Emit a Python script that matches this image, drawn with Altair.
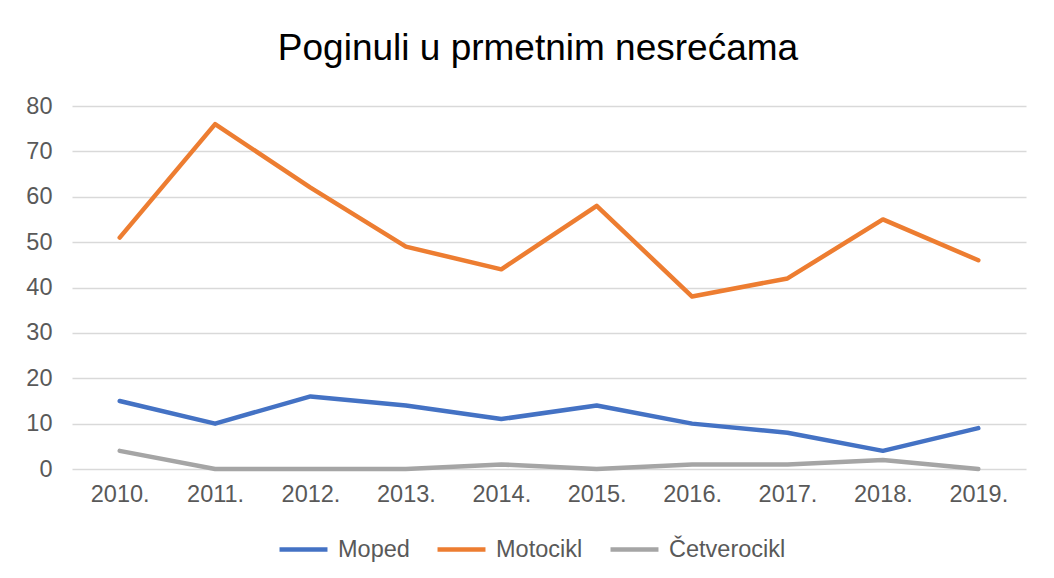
import altair as alt
import pandas as pd

years = ["2010.", "2011.", "2012.", "2013.", "2014.", "2015.", "2016.", "2017.", "2018.", "2019."]
moped = [15, 10, 16, 14, 11, 14, 10, 8, 4, 9]
motocikl = [51, 76, 62, 49, 44, 58, 38, 42, 55, 46]
cetverocikl = [4, 0, 0, 0, 1, 0, 1, 1, 2, 0]

series_names = ["Moped", "Motocikl", "Četverocikl"]
series_values = [moped, motocikl, cetverocikl]
colors = ["#4472C4", "#ED7D31", "#A5A5A5"]

rows = []
for name, vals in zip(series_names, series_values):
    for y, v in zip(years, vals):
        rows.append({"Godina": y, "Serija": name, "Vrijednost": v})
df = pd.DataFrame(rows)

font = "Liberation Sans"
fs = 23.5

chart = alt.Chart(df).mark_line(strokeWidth=4.5, strokeCap="round", strokeJoin="round").encode(
    x=alt.X("Godina:N", sort=years, scale=alt.Scale(type="point", padding=0.5),
            axis=alt.Axis(title=None, labelAngle=0, ticks=False, domain=False, grid=False,
                          labelFontSize=fs, labelColor="#595959", labelFont=font, labelPadding=13)),
    y=alt.Y("Vrijednost:Q", scale=alt.Scale(domain=[0, 80], nice=False),
            axis=alt.Axis(title=None, values=[0, 10, 20, 30, 40, 50, 60, 70, 80], ticks=False, domain=False,
                          gridColor="#D9D9D9", gridWidth=1.5, labelFontSize=fs, labelColor="#595959",
                          labelFont=font, labelPadding=20)),
    color=alt.Color("Serija:N", sort=series_names,
                    scale=alt.Scale(domain=series_names, range=colors),
                    legend=alt.Legend(title=None, orient="none", direction="horizontal",
                                      legendX=205, legendY=417, symbolType="stroke",
                                      symbolStrokeWidth=4.5, symbolSize=2300, labelFontSize=fs,
                                      labelColor="#595959", labelFont=font, labelOffset=8,
                                      columnPadding=18)),
).properties(
    width=954,
    height=363,
    title=alt.TitleParams("Poginuli u prmetnim nesrećama", fontSize=37, font=font, fontWeight="normal",
                          color="#000000", anchor="middle", baseline="alphabetic", offset=43,
                          dx=-11, dy=46),
    padding={"left": 64, "top": 98, "right": 20, "bottom": 101},
    autosize=alt.AutoSizeParams(type="none"),
    background="white",
).configure_view(stroke=None)

chart.save("out.html", embed_options={"renderer": "svg", "actions": False})
